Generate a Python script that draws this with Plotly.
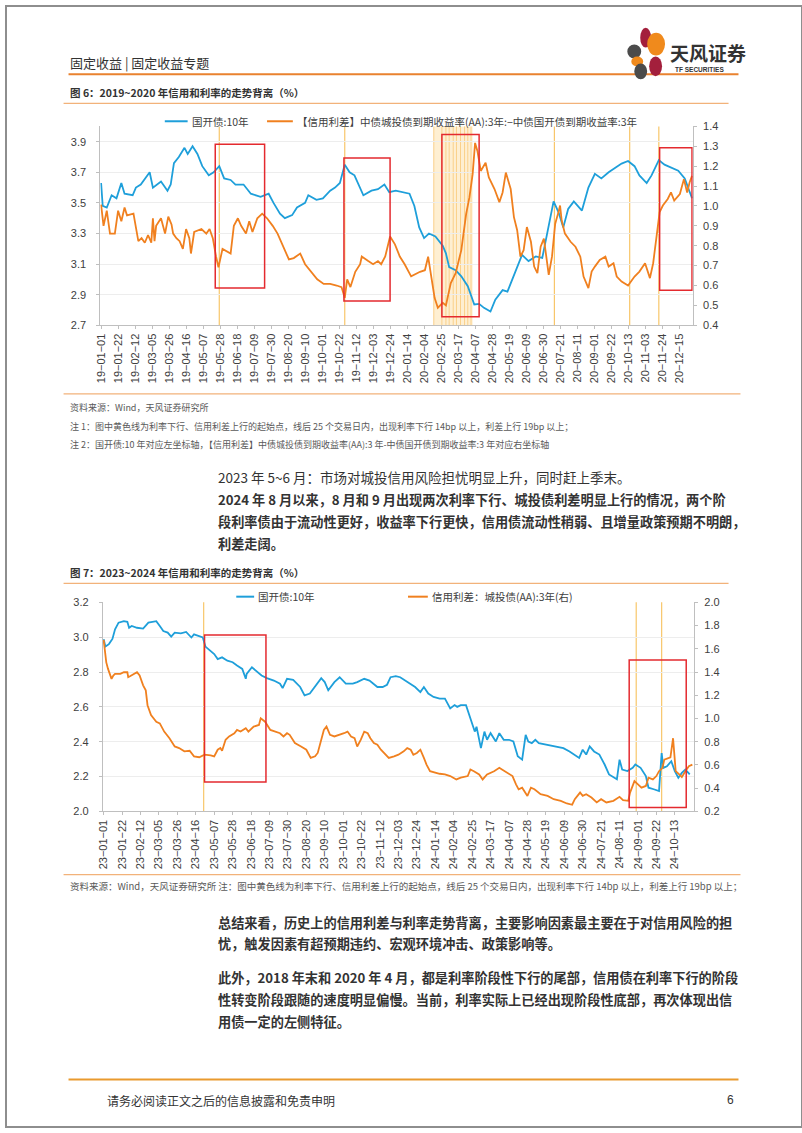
import plotly.graph_objects as go

W, H = 802, 1133
def px(x): return x / W
def py(y): return 1 - y / H

BLUE = "#1E9FDA"
ORANGE = "#F0801F"
YEL_LINE = "#F8C66A"
YEL_BAND_LINE = "#FAD08A"
YEL_FILL = "rgba(253,220,155,0.45)"
RED = "#E42A2F"
HDR_ORANGE = "#E9822F"
CJK = "Noto Sans CJK SC"
LAT = "Liberation Sans"

# ---------------- Chart 1 data (2019~2020) ----------------
c1_blue_dates = ["2019-01-01","2019-01-03","2019-01-08","2019-01-14","2019-01-20","2019-01-26","2019-01-30","2019-02-09","2019-02-13","2019-02-19",
 "2019-03-02","2019-03-06","2019-03-16","2019-03-24","2019-03-28","2019-04-01","2019-04-07","2019-04-14","2019-04-18","2019-04-24",
 "2019-04-30","2019-05-06","2019-05-14","2019-05-20","2019-05-27","2019-06-02","2019-06-10","2019-06-16","2019-06-26","2019-07-05",
 "2019-07-17","2019-07-27","2019-08-02","2019-08-10","2019-08-16","2019-08-25","2019-08-31","2019-09-10","2019-09-14","2019-09-24",
 "2019-10-02","2019-10-11","2019-10-17","2019-10-23","2019-10-29","2019-11-04","2019-11-10","2019-11-21","2019-12-01","2019-12-09",
 "2019-12-17","2019-12-23","2019-12-31","2020-01-09","2020-01-17","2020-01-23","2020-01-29","2020-02-04","2020-02-10","2020-02-18",
 "2020-02-27","2020-03-02","2020-03-06","2020-03-14","2020-03-21","2020-03-29","2020-04-06","2020-04-12","2020-04-18","2020-04-26",
 "2020-05-02","2020-05-11","2020-05-17","2020-05-23","2020-06-04","2020-06-12","2020-06-21","2020-06-29","2020-07-05","2020-07-13",
 "2020-07-19","2020-07-25","2020-07-31","2020-08-07","2020-08-17","2020-08-25","2020-09-02","2020-09-10","2020-09-19","2020-09-27",
 "2020-10-05","2020-10-13","2020-10-21","2020-10-27","2020-11-05","2020-11-11","2020-11-20","2020-11-27","2020-12-05","2020-12-14",
 "2020-12-22","2020-12-31"]
c1_blue_vals = [3.63,3.48,3.47,3.55,3.53,3.63,3.56,3.55,3.60,3.62,
 3.70,3.60,3.64,3.58,3.62,3.76,3.80,3.86,3.82,3.87,
 3.82,3.74,3.68,3.70,3.74,3.66,3.65,3.62,3.62,3.56,
 3.54,3.56,3.50,3.43,3.40,3.42,3.47,3.50,3.55,3.52,
 3.53,3.58,3.60,3.63,3.75,3.70,3.68,3.55,3.58,3.59,
 3.62,3.57,3.58,3.57,3.56,3.48,3.34,3.27,3.30,3.28,
 3.22,3.17,3.08,3.06,3.02,2.955,2.836,2.84,2.814,2.79,
 2.868,2.93,2.92,3.00,3.16,3.12,3.15,3.14,3.30,3.51,
 3.44,3.34,3.46,3.51,3.45,3.60,3.69,3.66,3.70,3.73,
 3.757,3.774,3.74,3.68,3.63,3.68,3.78,3.75,3.73,3.71,
 3.66,3.53]

c1_orange_dates = ["2019-01-01","2019-01-04","2019-01-08","2019-01-12","2019-01-18","2019-01-22","2019-01-26","2019-01-30","2019-02-02","2019-02-10",
 "2019-02-16","2019-02-20","2019-02-24","2019-02-28","2019-03-04","2019-03-06","2019-03-08","2019-03-10","2019-03-16","2019-03-21",
 "2019-03-25","2019-03-29","2019-03-31","2019-04-04","2019-04-08","2019-04-12","2019-04-16","2019-04-20","2019-04-22","2019-04-26",
 "2019-05-05","2019-05-11","2019-05-15","2019-05-19","2019-05-23","2019-05-26","2019-05-31","2019-06-06","2019-06-10","2019-06-14",
 "2019-06-19","2019-06-23","2019-06-29","2019-07-03","2019-07-07","2019-07-13","2019-07-19","2019-07-25","2019-08-01","2019-08-07",
 "2019-08-11","2019-08-15","2019-08-21","2019-08-27","2019-09-04","2019-09-10","2019-09-17","2019-09-25","2019-10-03","2019-10-11",
 "2019-10-19","2019-10-25","2019-10-29","2019-11-01","2019-11-05","2019-11-11","2019-11-17","2019-11-19","2019-11-27","2019-12-03",
 "2019-12-09","2019-12-13","2019-12-18","2019-12-24","2019-12-30","2020-01-05","2020-01-11","2020-01-19","2020-01-30","2020-02-05",
 "2020-02-09","2020-02-13","2020-02-17","2020-02-21","2020-02-27","2020-03-02","2020-03-08","2020-03-14","2020-03-21","2020-03-27",
 "2020-03-31","2020-04-04","2020-04-07","2020-04-10","2020-04-14","2020-04-20","2020-04-24","2020-05-01","2020-05-07","2020-05-11",
 "2020-05-15","2020-05-21","2020-05-25","2020-05-29","2020-06-02","2020-06-06","2020-06-10","2020-06-15","2020-06-19","2020-06-23",
 "2020-06-27","2020-07-01","2020-07-07","2020-07-11","2020-07-15","2020-07-19","2020-07-21","2020-07-23","2020-07-27","2020-08-03",
 "2020-08-09","2020-08-15","2020-08-19","2020-08-25","2020-08-29","2020-09-02","2020-09-08","2020-09-15","2020-09-19","2020-09-25",
 "2020-09-29","2020-10-05","2020-10-13","2020-10-21","2020-10-27","2020-11-03","2020-11-09","2020-11-13","2020-11-17","2020-11-21",
 "2020-11-25","2020-12-01","2020-12-05","2020-12-09","2020-12-16","2020-12-21","2020-12-25","2020-12-28","2020-12-31"]
c1_orange_vals = [1.007,0.900,0.976,0.861,0.861,0.976,0.923,0.992,0.953,0.961,
 0.823,0.838,0.815,0.854,0.815,0.938,0.823,0.900,0.938,0.861,
 0.946,0.907,0.861,0.838,0.823,0.784,0.884,0.838,0.761,0.869,
 0.884,0.861,0.884,0.838,0.746,0.692,0.784,0.769,0.761,0.900,
 0.938,0.900,0.861,0.923,0.869,0.938,0.961,0.938,0.900,0.861,
 0.823,0.784,0.731,0.738,0.761,0.707,0.669,0.631,0.608,0.608,
 0.600,0.592,0.538,0.631,0.592,0.669,0.707,0.746,0.723,0.707,
 0.723,0.707,0.746,0.846,0.807,0.746,0.707,0.646,0.669,0.677,
 0.745,0.631,0.538,0.488,0.513,0.500,0.612,0.662,0.778,0.960,
 1.043,1.160,1.317,1.275,1.176,1.217,1.143,1.085,1.019,1.068,
 1.168,1.085,0.944,0.878,0.745,0.778,0.894,0.820,0.695,0.662,
 0.795,0.836,0.654,0.745,0.911,0.969,1.002,0.927,0.861,0.820,
 0.795,0.745,0.645,0.587,0.670,0.695,0.728,0.745,0.695,0.712,
 0.645,0.620,0.600,0.645,0.670,0.712,0.637,0.712,0.828,0.969,
 1.002,1.035,1.068,1.027,1.060,1.135,1.068,1.118,1.151]

c1_ticklabels = ["19-01-01","19-01-22","19-02-12","19-03-05","19-03-26","19-04-16","19-05-07","19-05-28","19-06-18","19-07-09",
 "19-07-30","19-08-20","19-09-10","19-10-01","19-10-22","19-11-12","19-12-03","19-12-24","20-01-14","20-02-04",
 "20-02-25","20-03-17","20-04-07","20-04-28","20-05-19","20-06-09","20-06-30","20-07-21","20-08-11","20-09-01",
 "20-09-22","20-10-13","20-11-03","20-11-24","20-12-15"]
c1_signal_dates = ["2019-05-27","2019-10-29","2020-07-14","2020-10-15","2020-11-20"]
c1_band = ["2020-02-16","2020-04-04"]
c1_band_lines = ["2020-02-16","2020-02-26","2020-03-02","2020-03-06","2020-03-11","2020-03-15","2020-03-20","2020-03-25","2020-03-29","2020-04-02"]
c1_boxes = [("2019-05-22","2019-07-22",2.944,3.883),("2019-10-28","2019-12-24",2.858,3.794),
            ("2020-02-26","2020-04-12",2.756,3.947),("2020-11-21","2020-12-31",2.929,3.861)]

# ---------------- Chart 2 data (2023~2024) ----------------
c2_blue_dates = ["2023-01-01","2023-01-03","2023-01-07","2023-01-11","2023-01-14","2023-01-18","2023-01-24","2023-01-28","2023-01-30","2023-02-02",
 "2023-02-08","2023-02-15","2023-02-21","2023-02-26","2023-03-02","2023-03-06","2023-03-10","2023-03-15","2023-03-19","2023-03-23",
 "2023-03-30","2023-04-05","2023-04-11","2023-04-14","2023-04-20","2023-04-24","2023-04-27","2023-05-03","2023-05-07","2023-05-11",
 "2023-05-16","2023-05-22","2023-05-28","2023-06-02","2023-06-08","2023-06-12","2023-06-13","2023-06-19","2023-06-25","2023-06-30",
 "2023-07-06","2023-07-14","2023-07-21","2023-07-24","2023-07-29","2023-08-05","2023-08-13","2023-08-18","2023-08-24","2023-09-01",
 "2023-09-06","2023-09-10","2023-09-14","2023-09-21","2023-09-27","2023-10-04","2023-10-12","2023-10-17","2023-10-25","2023-10-31",
 "2023-11-05","2023-11-09","2023-11-15","2023-11-20","2023-11-24","2023-11-30","2023-12-05","2023-12-11","2023-12-17","2023-12-22",
 "2023-12-28","2024-01-01","2024-01-06","2024-01-12","2024-01-19","2024-01-25","2024-01-31","2024-02-05","2024-02-08","2024-02-12",
 "2024-02-18","2024-02-23","2024-02-28","2024-03-01","2024-03-06","2024-03-10","2024-03-13","2024-03-17","2024-03-23","2024-03-27",
 "2024-04-01","2024-04-07","2024-04-12","2024-04-17","2024-04-22","2024-04-26","2024-04-29","2024-05-03","2024-05-07","2024-05-11",
 "2024-05-20","2024-05-29","2024-06-08","2024-06-15","2024-06-21","2024-06-26","2024-06-30","2024-07-04","2024-07-08","2024-07-13",
 "2024-07-19","2024-07-25","2024-07-30","2024-08-05","2024-08-08","2024-08-11","2024-08-14","2024-08-20","2024-08-26","2024-08-29",
 "2024-09-04","2024-09-10","2024-09-13","2024-09-19","2024-09-25","2024-09-28","2024-09-30","2024-10-04","2024-10-09","2024-10-13",
 "2024-10-17","2024-10-21","2024-10-25","2024-10-30"]
c2_blue_vals = [2.988,2.946,2.96,2.99,3.045,3.083,3.092,3.088,3.054,3.064,
 3.054,3.049,3.083,3.086,3.092,3.064,3.035,3.026,3.003,3.026,
 3.022,3.03,2.998,3.016,3.007,2.998,2.946,2.922,2.903,2.874,
 2.884,2.865,2.856,2.837,2.818,2.761,2.789,2.827,2.799,2.78,
 2.765,2.751,2.733,2.708,2.761,2.755,2.714,2.666,2.676,2.733,
 2.765,2.742,2.695,2.742,2.77,2.733,2.733,2.742,2.761,2.751,
 2.733,2.714,2.714,2.727,2.77,2.776,2.77,2.751,2.727,2.714,
 2.685,2.714,2.676,2.657,2.647,2.647,2.591,2.61,2.60,2.61,
 2.61,2.534,2.458,2.486,2.363,2.458,2.411,2.449,2.401,2.449,
 2.411,2.411,2.401,2.316,2.297,2.439,2.401,2.392,2.411,2.392,
 2.382,2.373,2.363,2.344,2.326,2.307,2.354,2.326,2.373,2.344,
 2.326,2.269,2.212,2.193,2.184,2.297,2.24,2.231,2.25,2.269,
 2.25,2.203,2.136,2.127,2.117,2.335,2.25,2.259,2.288,2.231,
 2.193,2.221,2.24,2.212]

c2_orange_dates = ["2023-01-01","2023-01-02","2023-01-04","2023-01-06","2023-01-08","2023-01-10","2023-01-12","2023-01-14","2023-01-20","2023-01-24",
 "2023-01-28","2023-01-29","2023-01-31","2023-02-04","2023-02-08","2023-02-11","2023-02-15","2023-02-18","2023-02-20","2023-02-24",
 "2023-03-02","2023-03-06","2023-03-11","2023-03-17","2023-03-23","2023-03-28","2023-04-03","2023-04-09","2023-04-14","2023-04-20",
 "2023-04-26","2023-05-03","2023-05-07","2023-05-11","2023-05-14","2023-05-16","2023-05-20","2023-05-24","2023-05-30","2023-06-02",
 "2023-06-06","2023-06-12","2023-06-15","2023-06-21","2023-06-27","2023-06-29","2023-07-04","2023-07-10","2023-07-15","2023-07-21",
 "2023-07-25","2023-07-29","2023-08-01","2023-08-07","2023-08-14","2023-08-20","2023-08-25","2023-08-30","2023-09-02","2023-09-05",
 "2023-09-09","2023-09-12","2023-09-16","2023-09-21","2023-09-27","2023-10-02","2023-10-06","2023-10-10","2023-10-14","2023-10-17",
 "2023-10-21","2023-10-25","2023-10-29","2023-11-01","2023-11-05","2023-11-09","2023-11-13","2023-11-18","2023-11-22","2023-11-28",
 "2023-12-03","2023-12-09","2023-12-13","2023-12-17","2023-12-20","2023-12-24","2023-12-28","2024-01-01","2024-01-04","2024-01-08",
 "2024-01-14","2024-01-19","2024-01-25","2024-01-31","2024-02-07","2024-02-12","2024-02-20","2024-02-23","2024-02-27","2024-03-04",
 "2024-03-08","2024-03-13","2024-03-21","2024-03-27","2024-03-30","2024-04-05","2024-04-11","2024-04-15","2024-04-18","2024-04-22",
 "2024-04-28","2024-05-02","2024-05-06","2024-05-13","2024-05-21","2024-05-28","2024-06-05","2024-06-12","2024-06-18","2024-06-21",
 "2024-06-27","2024-06-30","2024-07-04","2024-07-10","2024-07-16","2024-07-21","2024-07-27","2024-08-04","2024-08-11","2024-08-15",
 "2024-08-21","2024-08-23","2024-08-28","2024-09-01","2024-09-05","2024-09-10","2024-09-13","2024-09-18","2024-09-22","2024-09-25",
 "2024-09-29","2024-10-01","2024-10-08","2024-10-11","2024-10-14","2024-10-18","2024-10-21","2024-10-25","2024-10-29","2024-11-02"]
c2_orange_vals = [1.676,1.625,1.483,1.427,1.384,1.341,1.37,1.384,1.384,1.398,
 1.398,1.356,1.364,1.384,1.398,1.37,1.285,1.242,1.114,1.029,
 0.972,0.958,0.887,0.83,0.759,0.745,0.717,0.722,0.674,0.666,
 0.688,0.683,0.674,0.731,0.745,0.722,0.816,0.845,0.873,0.901,
 0.887,0.916,0.887,0.93,0.944,1.001,0.972,0.901,0.887,0.873,
 0.845,0.873,0.859,0.788,0.759,0.731,0.66,0.674,0.703,0.788,
 0.901,0.93,0.859,0.845,0.859,0.873,0.887,0.845,0.83,0.759,
 0.816,0.887,0.873,0.83,0.788,0.774,0.731,0.688,0.66,0.674,
 0.688,0.717,0.745,0.731,0.688,0.703,0.731,0.66,0.603,0.546,
 0.532,0.524,0.518,0.504,0.475,0.49,0.504,0.561,0.546,0.518,
 0.475,0.518,0.546,0.575,0.561,0.532,0.504,0.433,0.39,0.404,
 0.333,0.404,0.39,0.348,0.333,0.305,0.291,0.268,0.257,0.305,
 0.362,0.333,0.348,0.319,0.277,0.305,0.277,0.291,0.325,0.297,
 0.291,0.362,0.461,0.433,0.404,0.419,0.49,0.475,0.504,0.546,
 0.575,0.646,0.666,0.83,0.546,0.518,0.495,0.546,0.589,0.603]

c2_ticklabels = ["23-01-01","23-01-22","23-02-12","23-03-05","23-03-26","23-04-16","23-05-07","23-05-28","23-06-18","23-07-09",
 "23-07-30","23-08-20","23-09-10","23-10-01","23-10-22","23-11-12","23-12-03","23-12-24","24-01-14","24-02-04",
 "24-02-25","24-03-17","24-04-07","24-04-28","24-05-19","24-06-09","24-06-30","24-07-21","24-08-11","24-09-01",
 "24-09-22","24-10-13"]
c2_signal_dates = ["2023-04-25","2024-08-30","2024-09-28"]
c2_boxes = [("2023-04-26","2023-07-05",2.169,3.012),("2024-08-22","2024-10-26",2.023,2.869)]

def tick_vals(labels):
    return ["20" + s for s in labels]
def tick_text(labels):
    return [s.replace("-", "\u2212") for s in labels]

fig = go.Figure()
fig.add_trace(go.Scatter(x=c1_blue_dates, y=c1_blue_vals, mode="lines", line=dict(color=BLUE, width=1.8),
                         xaxis="x", yaxis="y", showlegend=False))
fig.add_trace(go.Scatter(x=c1_orange_dates, y=c1_orange_vals, mode="lines", line=dict(color=ORANGE, width=1.8),
                         xaxis="x", yaxis="y2", showlegend=False))
fig.add_trace(go.Scatter(x=c2_blue_dates, y=c2_blue_vals, mode="lines", line=dict(color=BLUE, width=1.8),
                         xaxis="x2", yaxis="y3", showlegend=False))
fig.add_trace(go.Scatter(x=c2_orange_dates, y=c2_orange_vals, mode="lines", line=dict(color=ORANGE, width=1.8),
                         xaxis="x2", yaxis="y4", showlegend=False))

AX = "#BFBFBF"
GRID = "#EDEDED"
tickfont = dict(family=LAT, size=11, color="#404040")
xcommon = dict(type="date", showgrid=False, showline=True, linecolor=AX, linewidth=1, ticks="outside",
               ticklen=3, tickcolor=AX, tickangle=-90, tickfont=tickfont, zeroline=False)
ycommon = dict(showline=True, linecolor=AX, linewidth=1, ticks="outside", ticklen=3, tickcolor=AX,
               tickfont=tickfont, tickformat=".1f", zeroline=False)

c1_x = (px(95), px(692)); c1_y = (py(322.7), py(121.7))
c2_x = (px(97.5), px(693.3)); c2_y = (py(814), py(602.7))

fig.update_layout(
    width=W, height=H, margin=dict(l=0, r=0, t=0, b=0), paper_bgcolor="white", plot_bgcolor="white",
    showlegend=False,
    xaxis=dict(domain=list(c1_x), anchor="y", range=["2018-12-31", "2021-01-01"],
               tickvals=tick_vals(c1_ticklabels), ticktext=tick_text(c1_ticklabels), **xcommon),
    yaxis=dict(domain=list(c1_y), anchor="x", range=[2.7, 4.0], tick0=2.7, dtick=0.2,
               showgrid=True, gridcolor=GRID, ticklabelstandoff=8, **ycommon),
    yaxis2=dict(overlaying="y", side="right", anchor="x", range=[0.4, 1.4], tick0=0.4, dtick=0.1,
                showgrid=False, ticklabelstandoff=4, **ycommon),
    xaxis2=dict(domain=list(c2_x), anchor="y3", range=["2022-12-31", "2024-11-04"],
                tickvals=tick_vals(c2_ticklabels), ticktext=tick_text(c2_ticklabels), **xcommon),
    yaxis3=dict(domain=list(c2_y), anchor="x2", range=[2.0, 3.2], tick0=2.0, dtick=0.2,
                showgrid=True, gridcolor=GRID, ticklabelstandoff=8, **ycommon),
    yaxis4=dict(overlaying="y3", side="right", anchor="x2", range=[0.2, 2.0], tick0=0.2, dtick=0.2,
                showgrid=False, ticklabelstandoff=4, **ycommon),
)

shapes = []
# chart 1 yellow band + signal lines
shapes.append(dict(type="rect", xref="x", yref="y domain", x0=c1_band[0], x1=c1_band[1], y0=0, y1=1,
                   fillcolor=YEL_FILL, line=dict(width=0), layer="below"))
for d in c1_band_lines:
    shapes.append(dict(type="line", xref="x", yref="y domain", x0=d, x1=d, y0=0, y1=1,
                       line=dict(color=YEL_BAND_LINE, width=1), layer="below"))
for d in c1_signal_dates:
    shapes.append(dict(type="line", xref="x", yref="y domain", x0=d, x1=d, y0=0, y1=1,
                       line=dict(color=YEL_LINE, width=1.2), layer="below"))
for (a, b, lo, hi) in c1_boxes:
    shapes.append(dict(type="rect", xref="x", yref="y", x0=a, x1=b, y0=lo, y1=hi,
                       line=dict(color=RED, width=1.5), fillcolor="rgba(0,0,0,0)", layer="above"))
for d in c2_signal_dates:
    shapes.append(dict(type="line", xref="x2", yref="y3 domain", x0=d, x1=d, y0=0, y1=1,
                       line=dict(color=YEL_LINE, width=1.2), layer="below"))
for (a, b, lo, hi) in c2_boxes:
    shapes.append(dict(type="rect", xref="x2", yref="y3", x0=a, x1=b, y0=lo, y1=hi,
                       line=dict(color=RED, width=1.5), fillcolor="rgba(0,0,0,0)", layer="above"))

def hline(x0, x1, y, color, w):
    shapes.append(dict(type="line", xref="paper", yref="paper", x0=px(x0), x1=px(x1), y0=py(y), y1=py(y),
                       line=dict(color=color, width=w)))

# page frame
shapes.append(dict(type="rect", xref="paper", yref="paper", x0=0, x1=1, y0=0, y1=1,
                   line=dict(color="#8E8E8E", width=2), fillcolor="rgba(0,0,0,0)"))
hline(63, 738, 69, HDR_ORANGE, 2)          # header rule
hline(58, 728, 98.5, "#F2B27A", 1.2)        # fig 6 title rule
hline(58, 740, 392, "#F2B27A", 1.2)         # fig 6 bottom rule
hline(58, 728, 583.5, "#F2B27A", 1.2)       # fig 7 title rule
hline(58, 740, 878, "#F2B27A", 1.2)         # fig 7 bottom rule
hline(63, 738, 1085, "#E99A2E", 2.2)        # footer rule
# legend samples
hline(160, 183, 116.5, BLUE, 2)
hline(263, 289, 116.5, ORANGE, 2)
hline(232, 250, 597, BLUE, 2)
hline(405, 425, 597, ORANGE, 2)

# logo petals
def petal(x0, y0, x1, y1, color):
    shapes.append(dict(type="circle", xref="paper", yref="paper", x0=px(x0), x1=px(x1), y0=py(y1), y1=py(y0),
                       fillcolor=color, line=dict(width=0)))
petal(639, 22, 650, 42, "#A31F3C")
petal(646, 27, 664, 50, "#F08A1C")
petal(626, 39, 640, 53, "#4B4B4B")
petal(630, 51, 642, 61, "#F08A1C")
petal(633, 58, 646, 74, "#4B4B4B")
petal(648, 51, 661, 71, "#A31F3C")

fig.update_layout(shapes=shapes)

anns = []
def text(x, y, s, size, color="#333333", family=CJK, anchor="left"):
    anns.append(dict(xref="paper", yref="paper", x=px(x), y=py(y), text=s, showarrow=False,
                     xanchor=anchor, yanchor="middle", font=dict(family=family, size=size, color=color)))

BODY = 13.2
text(62, 57, "固定收益 | 固定收益专题", 13, "#333333")
text(667, 47, "<b>天风证券</b>", 19, "#333333")
text(672, 64, "<b>TF SECURITIES</b>", 6.5, "#333333", LAT)
text(62, 87, "<b>图 6：2019~2020 年信用和利率的走势背离（%）</b>", 10.5, "#333333")
text(185, 116.5, "国开债:10年", 10.5, "#404040")
text(291, 116.5, "【信用利差】中债城投债到期收益率(AA):3年:−中债国开债到期收益率:3年", 10.5, "#404040")
text(62, 406, "资料来源：Wind，天风证券研究所", 9, "#595959")
text(62, 425, "注 1：图中黄色线为利率下行、信用利差上行的起始点，线后 25 个交易日内，出现利率下行 14bp 以上，利差上行 19bp 以上；", 9, "#595959")
text(62, 443.5, "注 2：国开债:10 年对应左坐标轴，【信用利差】中债城投债到期收益率(AA):3 年-中债国开债到期收益率:3 年对应右坐标轴", 9, "#595959")
text(212, 476, "2023 年 5~6 月：市场对城投信用风险担忧明显上升，同时赶上季末。", 13.5, "#333333")
text(212, 499, "<b>2024 年 8 月以来，8 月和 9 月出现两次利率下行、城投债利差明显上行的情况，两个阶</b>", BODY, "#333333")
text(212, 521, "<b>段利率债由于流动性更好，收益率下行更快，信用债流动性稍弱、且增量政策预期不明朗，</b>", BODY, "#333333")
text(212, 543, "<b>利差走阔。</b>", BODY, "#333333")
text(62, 572.5, "<b>图 7：2023~2024 年信用和利率的走势背离（%）</b>", 10.5, "#333333")
text(252, 597, "国开债:10年", 10.5, "#404040")
text(427, 597, "信用利差：城投债(AA):3年(右)", 10.5, "#404040")
text(62, 889, "资料来源：Wind，天风证券研究所 注：图中黄色线为利率下行、信用利差上行的起始点，线后 25 个交易日内，出现利率下行 14bp 以上，利差上行 19bp 以上；", 9.5, "#595959")
text(212, 926, "<b>总结来看，历史上的信用利差与利率走势背离，主要影响因素最主要在于对信用风险的担</b>", BODY, "#333333")
text(212, 948, "<b>忧，触发因素有超预期违约、宏观环境冲击、政策影响等。</b>", BODY, "#333333")
text(212, 982, "<b>此外，2018 年末和 2020 年 4 月，都是利率阶段性下行的尾部，信用债在利率下行的阶段</b>", BODY, "#333333")
text(212, 1004, "<b>性转变阶段跟随的速度明显偏慢。当前，利率实际上已经出现阶段性底部，再次体现出信</b>", BODY, "#333333")
text(212, 1026, "<b>用债一定的左侧特征。</b>", BODY, "#333333")
text(100, 1106, "请务必阅读正文之后的信息披露和免责申明", 12, "#333333")
text(735, 1106, "6", 12, "#333333", LAT, "right")
fig.update_layout(annotations=anns)

fig.write_html("out.html", config={"displayModeBar": False},
               post_script="document.body.style.margin='0';document.body.style.overflow='hidden';")
